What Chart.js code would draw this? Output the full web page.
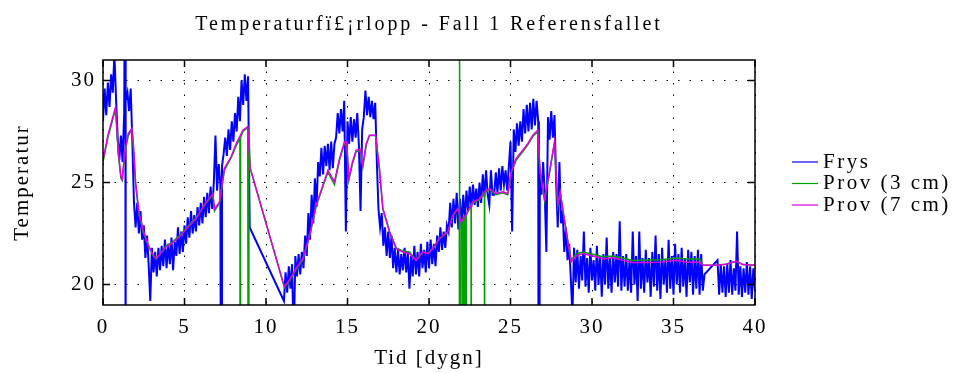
<!DOCTYPE html>
<html>
<head>
<meta charset="utf-8">
<script src="https://cdn.jsdelivr.net/npm/chart.js@4.4.1/dist/chart.umd.min.js"></script>
<style>
  html, body { margin: 0; padding: 0; background: #fff; }
</style>
</head>
<body>
<canvas id="chart" width="957" height="373"></canvas>
<script>
const titleText = 'Temperaturfï£¡rlopp - Fall 1 Referensfallet'
const xTitle = 'Tid [dygn]'
const yTitle = 'Temperatur'
const seriesLabels = ['Frys', 'Prov (3 cm)', 'Prov (7 cm)']
const xTicks = [0, 5, 10, 15, 20, 25, 30, 35, 40]
const yTicks = [20, 25, 30]

// Frys: one reading every 0.1 dygn, null = no reading
const frysStep = 0.1
const frysTemp = [
  28.0, 29.6, 28.3, 29.9, 28.7, 30.3, 29.4, 31.3, 29.1, 27.2,
  26.1, 27.3, 26.0, 28.4, 29.0, 29.4, 28.5, 29.6, 27.0, 24.0,
  22.8, 24.0, 22.5, 23.6, 22.2, 22.9, 21.3, 22.4, 21.0, 19.2,
  21.8, 20.6, 21.6, 20.4, 21.8, 20.7, 21.9, 20.9, 22.2, 20.8,
  22.0, 21.0, 22.3, 20.7, 22.1, 21.4, 22.8, 21.5, 22.6, 21.6,
  22.9, 22.0, 23.3, 22.3, 23.6, 22.5, 23.4, 22.6, 23.8, 22.9,
  24.0, 23.0, 24.3, 23.3, 24.5, 23.5, 24.8, 23.7, 25.0, 27.3,
  24.6, 25.9, 24.9, 25.8, 26.4, 27.2, 26.3, 27.6, 26.6, 28.0,
  27.0, 28.4, 27.5, 29.2, 28.0, 30.0, 28.8, 30.3, 29.0, 30.2,
  22.8, null, null, null, null, null, null, null, null, null,
  null, null, null, null, null, null, null, null, null, null,
  null, 19.2, 20.6, 19.6, 20.9, 19.8, 21.0, 17.0, 21.4, 20.4,
  21.5, 20.5, 21.6, 20.8, 22.4, 21.4, 23.5, 22.2, 24.4, 23.0,
  25.2, 23.8, 26.0, 25.3, 26.7, 25.4, 26.8, 25.8, 26.9, 25.6,
  27.0, 25.7, 26.9, 27.2, 28.4, 27.4, 28.6, 27.5, 29.0, 22.6,
  28.0, 26.9, 28.2, 27.0, 28.1, 27.2, 28.4, 26.8, 23.6, 27.6,
  28.2, 29.5, 28.3, 29.2, 28.2, 29.0, 28.1, 28.9, 26.0, 23.7,
  22.8, 23.5, 21.9, 22.8, 21.4, 22.6, 21.3, 22.4, 20.8, 21.8,
  20.6, 21.7, 20.5, 21.5, 20.7, 21.8, 20.6, 21.6, 19.8, 21.4,
  20.4, 21.9, 20.5, 21.6, 20.4, 22.0, 20.8, 21.7, 20.6, 22.1,
  20.8, 22.2, 21.0, 22.0, 20.9, 22.4, 21.6, 22.8, 21.7, 22.6,
  21.8, 22.9, 22.6, 24.0, 22.8, 24.2, 23.0, 24.5, 22.7, 24.2,
  22.8, 24.4, 23.2, 24.6, 23.6, 24.8, 23.8, 24.9, 23.9, 24.7,
  23.8, 25.0, 24.0, 25.4, 24.3, 25.6, 24.4, 23.9, 25.6, 24.4,
  24.4, 25.5, 24.5, 25.7, 24.6, 25.8, 24.9, 25.6, 24.6, 25.8,
  27.0, 22.6, 27.6, 26.5, 27.9, 26.8, 28.0, 27.0, 28.6, 27.4,
  28.8, 27.5, 28.9, 27.6, 29.1, 27.8, 29.0, 28.0, 25.6, 24.4,
  26.0, 24.5, 21.6, 28.2, 27.1, 28.5, 27.2, 28.3, 25.0, 22.8,
  26.0, 23.0, 23.6, 21.6, 22.8, 21.2, 22.0, 20.3, 18.5, 21.8,
  20.1, 21.7, 19.8, 21.4, 20.2, 22.6, 19.9, 21.3, 19.6, 21.8,
  20.2, 21.2, 19.7, 21.9, 20.0, 21.4, 19.4, 21.5, 20.0, 22.3,
  19.8, 21.3, 19.6, 21.6, 20.1, 21.5, 19.9, 23.1, 19.7, 21.4,
  19.9, 21.5, 19.7, 21.2, 19.6, 22.6, 20.0, 21.4, 19.2, 22.6,
  19.8, 21.3, 19.6, 21.7, 20.1, 21.3, 19.4, 21.6, 19.9, 22.4,
  19.7, 21.5, 19.3, 21.8, 20.0, 21.2, 19.6, 22.2, 19.8, 21.4,
  19.5, 22.0, 20.0, 21.5, 19.6, 21.8, 19.9, 21.3, 19.4, 21.7,
  20.1, 21.6, 19.5, 21.4, 19.8, 21.7, 19.5, 21.5, 19.7, 20.5,
  null, null, null, null, null, null, null, 21.2, 19.5, 21.0,
  19.6, 20.9, 19.4, 21.0, 19.6, 21.2, 19.5, 20.8, 19.7, 22.6,
  19.5, 20.9, 19.4, 20.8, 19.6, 21.1, 19.5, 20.9, 19.3, 20.8,
  19.7
]
// sensor dropouts in Frys (off scale)
const frysSpikeDays = [1.37, 1.38, 7.27, 26.74]
const frysSpikeTemp = [40, 0, 0, 0]

const prov3Days = [
  0, 0.3, 0.6, 0.77, 0.95, 1.1, 1.18, 1.35, 1.55, 1.77, 1.86, 2.0, 2.2, 2.45, 2.75, 3.05, 3.26,
  3.5, 3.88, 4.2, 4.69, 5.2, 5.72, 6.33, 6.74, 6.84, 7.15, 7.45, 7.86, 8.17, 8.40, 8.42, 8.44,
  8.58, 8.88, 8.93, 8.95, 9.03, 11.13, 11.5, 11.85, 12.26, 12.67, 13.08, 13.49, 13.8, 14.2,
  14.51, 14.82, 14.95, 15.08, 15.3, 15.53, 15.78, 15.94, 16.15, 16.35, 16.72, 16.96, 17.17,
  17.58, 17.99, 18.39, 18.8, 19.21, 19.62, 19.93, 20.23, 20.64, 21.15, 21.46, 21.77, 21.86,
  21.87, 21.88, 21.98, 22.07, 22.08, 22.09, 22.17, 22.18, 22.19, 22.27, 22.28, 22.29, 22.58,
  22.59, 22.6, 22.69, 23.1, 23.4, 23.41, 23.42, 23.71, 24.12, 24.53, 24.83, 25.04, 25.35,
  25.75, 26.06, 26.37, 26.67, 26.82, 27.09, 27.39, 27.7, 27.9, 28.05, 28.42, 28.72, 29.03,
  29.44, 29.85, 30.26, 30.66, 31.28, 31.89, 32.5, 33.32, 34.2, 35.16, 35.8, 36.6, 36.8,
  37.62, 38.2, 38.85, 39.25, 40
]
const prov3Temp = [
  26.0, 27.2, 28.1, 28.6, 26.3, 25.2, 25.1, 26.5, 27.3, 27.6, 26.8, 24.9, 23.5, 22.6, 21.95, 21.45, 21.25,
  21.5, 21.9, 22.05, 22.4, 22.85, 23.3, 24.0, 24.4, 23.6, 24.0, 25.6, 26.2, 26.8, 27.15, 0, 27.2,
  27.5, 27.7, 0, 27.6, 25.7, 19.85, 20.25, 20.75, 21.2, 22.35, 23.85, 24.8, 25.5, 24.9,
  26.1, 26.95, 26.95, 25.1, 25.9, 26.5, 26.55, 25.75, 26.85, 27.3, 27.3, 25.6, 23.7,
  22.6, 21.8, 21.65, 21.6, 21.2, 21.6, 21.55, 21.75, 22.25, 22.55, 23.35, 23.7, 23.6,
  40, 0, 23.0, 23.2, 0, 23.25, 23.3, 0, 23.35, 23.4, 0, 23.45, 23.9,
  0, 23.95, 24.0, 24.15, 24.5, 0, 24.5, 24.65, 24.4, 24.5, 24.4, 25.45, 26.1,
  26.5, 26.85, 27.25, 27.5, 25.45, 24.1, 25.45, 26.95, 23.85, 24.5, 22.6, 21.2, 21.5,
  21.6, 21.52, 21.45, 21.36, 21.4, 21.3, 21.18, 21.2, 21.22, 21.3, 21.25, 21.25, 20.95,
  20.95, 21.0, 21.14, 20.98, 20.95
]

const prov7Days = [
  0, 0.3, 0.6, 0.77, 0.95, 1.1, 1.18, 1.35, 1.55, 1.77, 1.86, 2.0, 2.2, 2.45, 2.75, 3.05, 3.26,
  3.5, 3.88, 4.2, 4.69, 5.2, 5.72, 6.33, 6.74, 6.84, 7.15, 7.45, 7.86, 8.17, 8.58, 8.88, 9.03,
  11.13, 11.5, 11.85, 12.26, 12.67, 13.08, 13.49, 13.8, 14.2, 14.51, 14.82, 14.95, 15.08, 15.3,
  15.53, 15.78, 15.94, 16.15, 16.35, 16.72, 16.96, 17.17, 17.58, 17.99, 18.39, 18.8, 19.21,
  19.62, 19.93, 20.23, 20.64, 21.15, 21.46, 21.77, 21.98, 22.28, 22.69, 23.1, 23.4, 23.71,
  24.12, 24.53, 24.83, 25.04, 25.35, 25.75, 26.06, 26.37, 26.67, 26.82, 27.09, 27.39, 27.7,
  27.9, 28.05, 28.42, 28.72, 29.03, 29.44, 29.85, 30.26, 30.66, 31.28, 31.89, 32.5, 33.32,
  34.2, 35.16, 35.8, 36.6, 36.8, 37.62, 38.2, 38.85, 39.25, 40
]
const prov7Temp = [
  26.1, 27.3, 28.2, 28.7, 26.4, 25.3, 25.16, 26.6, 27.4, 27.65, 26.9, 25.0, 23.6, 22.7, 22.0, 21.5, 21.26,
  21.5, 21.85, 22.0, 22.34, 22.8, 23.24, 24.05, 24.46, 23.7, 24.05, 25.7, 26.26, 26.9, 27.56, 27.73, 25.7,
  19.9, 20.3, 20.8, 21.27, 22.4, 23.9, 24.87, 25.6, 25.03, 26.18, 27.0, 27.0, 25.2, 26.0,
  26.58, 26.63, 25.85, 26.9, 27.32, 27.32, 25.7, 23.73, 22.58, 21.76, 21.6, 21.52, 21.19,
  21.6, 21.52, 21.76, 22.25, 22.58, 23.4, 23.73, 23.07, 23.4, 24.05, 24.2, 24.54, 24.7,
  24.46, 24.54, 24.46, 25.52, 26.18, 26.58, 26.9, 27.32, 27.56, 25.52, 24.2, 25.52, 27.0,
  23.9, 24.54, 22.58, 21.11, 21.4, 21.52, 21.44, 21.36, 21.27, 21.31, 21.19, 21.08, 21.08,
  21.1, 21.19, 21.1, 21.1, 20.95, 20.95, 21.0, 21.14, 20.98, 20.95
]

const serif = "'Liberation Serif', 'Times New Roman', serif"

function toPoints(days, temps) {
  return days.map((d, i) => ({ x: d, y: temps[i] }))
}

const frysPoints = frysTemp
  .map((t, i) => ({ x: Math.round(i * frysStep * 10) / 10, y: t }))
  .concat(toPoints(frysSpikeDays, frysSpikeTemp))
  .filter(p => p.y !== null)
  .sort((a, b) => a.x - b.x)

// frame with inward ticks, title and legend drawn the gnuplot way
const gnuplotLook = {
  id: 'gnuplotLook',
  beforeLayout(chart) { chart.ctx.letterSpacing = '2px' },
  beforeDraw(chart) { chart.ctx.letterSpacing = '2px' },
  afterDatasetsDraw(chart) {
    const { ctx, chartArea: a, scales: { x, y } } = chart
    ctx.save()
    ctx.strokeStyle = '#000'
    ctx.lineWidth = 1.5
    ctx.strokeRect(a.left, a.top, a.right - a.left, a.bottom - a.top)
    ctx.beginPath()
    x.ticks.forEach(t => {
      const px = x.getPixelForValue(t.value)
      ctx.moveTo(px, a.bottom); ctx.lineTo(px, a.bottom - 7)
      ctx.moveTo(px, a.top); ctx.lineTo(px, a.top + 7)
    })
    y.ticks.forEach(t => {
      const py = y.getPixelForValue(t.value)
      ctx.moveTo(a.left, py); ctx.lineTo(a.left + 7, py)
      ctx.moveTo(a.right, py); ctx.lineTo(a.right - 7, py)
    })
    ctx.stroke()
    ctx.restore()
  },
  afterDraw(chart) {
    const { ctx, chartArea: a } = chart
    ctx.save()
    ctx.fillStyle = '#000'
    ctx.textBaseline = 'middle'

    ctx.letterSpacing = '2.9px'
    ctx.font = '20px ' + serif
    ctx.textAlign = 'center'
    ctx.fillText(titleText, (a.left + a.right) / 2, 25)

    ctx.letterSpacing = '2.5px'
    ctx.font = '21px ' + serif
    ctx.textAlign = 'left'
    chart.data.datasets.forEach((ds, i) => {
      const ly = a.top + 102 + i * 21.5
      ctx.strokeStyle = ds.borderColor
      ctx.lineWidth = 1.2
      ctx.beginPath()
      ctx.moveTo(a.right + 37, ly)
      ctx.lineTo(a.right + 63, ly)
      ctx.stroke()
      ctx.fillText(ds.label, a.right + 68, ly)
    })
    ctx.restore()
  }
}

new Chart(document.getElementById('chart'), {
  type: 'line',
  data: {
    datasets: [
      { label: seriesLabels[0], data: frysPoints, borderColor: '#0000ff', borderWidth: 2, order: 3 },
      { label: seriesLabels[1], data: toPoints(prov3Days, prov3Temp), borderColor: '#00a000', borderWidth: 1.5, order: 2 },
      { label: seriesLabels[2], data: toPoints(prov7Days, prov7Temp), borderColor: '#e000e0', borderWidth: 1.5, order: 1 }
    ]
  },
  options: {
    responsive: false,
    animation: false,
    devicePixelRatio: 1,
    layout: { padding: { top: 60, right: 202, left: 0, bottom: 0 } },
    elements: {
      point: { radius: 0 },
      line: { tension: 0 }
    },
    plugins: {
      legend: { display: false },
      title: { display: false },
      tooltip: { enabled: false }
    },
    scales: {
      x: {
        type: 'linear',
        min: 0,
        max: 40,
        afterBuildTicks: s => { s.ticks = xTicks.map(v => ({ value: v })) },
        afterFit: s => { s.height = 68 },
        ticks: { color: '#000', padding: 10, font: { family: serif, size: 21 } },
        grid: { color: '#000', lineWidth: 1, drawTicks: false },
        border: { display: false, dash: [1.5, 10] },
        title: { display: true, text: xTitle, color: '#000', padding: { top: 0, bottom: 2 }, font: { family: serif, size: 21 } }
      },
      y: {
        min: 19,
        max: 31,
        afterBuildTicks: s => { s.ticks = yTicks.map(v => ({ value: v })) },
        afterFit: s => { s.width = 103 },
        ticks: { color: '#000', padding: 7, font: { family: serif, size: 21 } },
        grid: { color: '#000', lineWidth: 1, drawTicks: false },
        border: { display: false, dash: [1.5, 10] },
        title: { display: true, text: yTitle, color: '#000', padding: { top: 10, bottom: 0 }, font: { family: serif, size: 21 } }
      }
    }
  },
  plugins: [gnuplotLook]
})
</script>
</body>
</html>
